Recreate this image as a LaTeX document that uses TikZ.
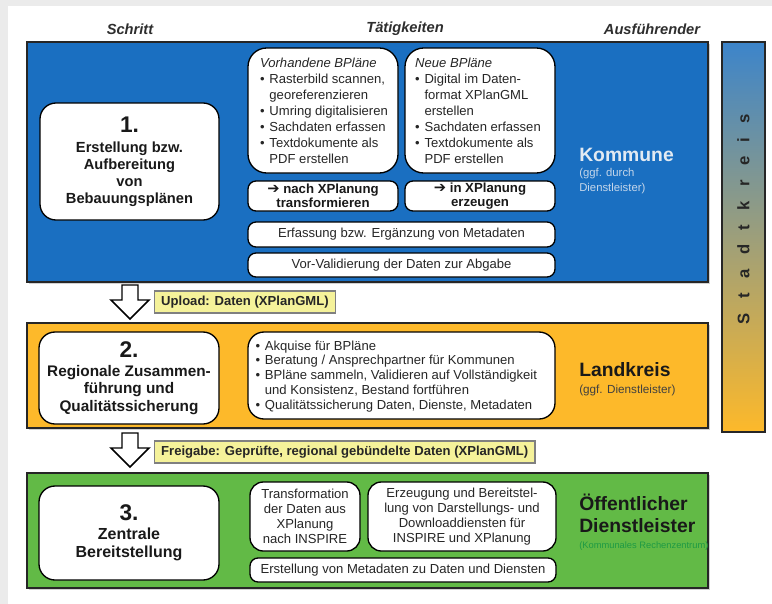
\documentclass[tikz,border=0pt]{standalone}
\usepackage{fontspec}
\setmainfont{Liberation Sans}
\newfontfamily\dejavu{DejaVu Sans}
\usetikzlibrary{fit,calc,shadows}
\definecolor{bggray}{HTML}{EBEBEB}
\definecolor{kblue}{HTML}{1A6FC1}
\definecolor{korange}{HTML}{FDB92A}
\definecolor{kgreen}{HTML}{62BA46}
\definecolor{lyellow}{HTML}{F5F29A}
\definecolor{kommtext}{HTML}{E2EAF2}
\definecolor{kommsub}{HTML}{C4D6EA}
\definecolor{rzgreen}{HTML}{1E9A44}
\definecolor{hdr}{HTML}{2E2E2E}
\newcommand{\bl}{\makebox[7pt][l]{•}}
\newcommand{\ind}{\hspace*{7pt}}
\newcommand{\harr}{{\dejavu\fontsize{11}{10}\selectfont ➔}}
\tikzset{
  lane/.style={draw=black!85, line width=1.2pt, inner sep=0pt,
    drop shadow={shadow xshift=1.2pt, shadow yshift=-1.2pt, opacity=0.35}},
  wbox/.style={draw=black, line width=1pt, fill=white, rounded corners=6pt, inner sep=0pt},
  stepbox/.style={wbox, rounded corners=12pt},
  steptext/.style={font=\bfseries\fontsize{11}{12.8}\selectfont, align=center, text=black!90, inner sep=0pt},
  acttext/.style={font=\fontsize{9.8}{12}\selectfont, align=left, text=black!85, inner sep=0pt},
  actc/.style={font=\fontsize{9.8}{11.2}\selectfont, align=center, text=black!85, inner sep=0pt},
  boldc/.style={font=\bfseries\fontsize{9.9}{10.8}\selectfont, align=center, text=black!90, inner sep=0pt},
  hdrtext/.style={font=\bfseries\itshape\fontsize{11}{13}\selectfont, text=hdr},
  lbl/.style={draw=black!50, line width=0.8pt, fill=lyellow, font=\bfseries\fontsize{9.8}{10.5}\selectfont,
    text=black!85, inner xsep=5pt, inner ysep=0pt, minimum height=16.5pt, anchor=west},
  hollow/.style={draw=black, line width=1.1pt, fill=white, line join=miter},
  who/.style={anchor=west, inner sep=0pt, align=left}
}
\begin{document}
\begin{tikzpicture}[x=0.75pt,y=-0.75pt]
\useasboundingbox (0,0) rectangle (772,604);
\fill[bggray] (0,0) rectangle (772,604);
\fill[white] (8,6) rectangle (772,604);

% headers
\node[hdrtext] (hschritt) at (130,29) {Schritt};
\node[hdrtext] (htaet) at (405,29) {Tätigkeiten};
\node[hdrtext] (hausf) at (652,29) {Ausführender};

% lanes
\node[lane, fill=kblue, fit={(27,42) (708,282)}] (blue) {};
\node[lane, fill=korange, fit={(27,323) (708,428)}] (orange) {};
\node[lane, fill=kgreen, fit={(27,473) (708,588)}] (green) {};

% Stadtkreis bar
\node[draw=black!85, line width=1.2pt, inner sep=0pt, shading=axis, top color=kblue!85, bottom color=korange,
  fit={(722,42) (765,432)}] (stadt) {};
\node[rotate=90, font=\bfseries\fontsize{12.5}{13}\selectfont, text=black!85] (stadtt) at (743.5,219)
  {S\hspace{10.8pt}t\hspace{10.8pt}a\hspace{10.8pt}d\hspace{10.8pt}t\hspace{10.8pt}k\hspace{10.8pt}r\hspace{10.8pt}e\hspace{10.8pt}i\hspace{10.8pt}s};

% ---- Step 1 ----
\node[stepbox, fit={(40,103) (219,220)}] (s1) {};
\node[steptext] (s1t) at (s1.center) {{\fontsize{17}{19}\selectfont 1.}\\[2pt] Erstellung bzw.\\ Aufbereitung\\ von\\ Bebauungsplänen};

\node[wbox, rounded corners=14pt, fit={(248,48) (398,173)}] (vorh) {};
\node[acttext] (vorht) at ($(vorh.center)+(1,0)$) {\textit{Vorhandene BPläne}\\
\bl Rasterbild scannen,\\ \ind georeferenzieren\\ \bl Umring digitalisieren\\ \bl Sachdaten erfassen\\
\bl Textdokumente als\\ \ind PDF erstellen};
\node[wbox, rounded corners=14pt, fit={(405,48) (555,173)}] (neu) {};
\node[acttext] (neut) at ($(neu.center)+(-2,0)$) {\textit{Neue BPläne}\\
\bl Digital im Daten-\\ \ind format XPlanGML\\ \ind erstellen\\ \bl Sachdaten erfassen\\
\bl Textdokumente als\\ \ind PDF erstellen};

\node[wbox, fit={(248,181) (398,211)}] (tr1) {};
\node[boldc] (tr1t) at (tr1.center) {\harr\ nach XPlanung\\ transformieren};
\node[wbox, fit={(405,181) (555,211)}] (tr2) {};
\node[boldc] (tr2t) at (tr2.center) {\harr\ in XPlanung\\ erzeugen};

\node[wbox, fit={(248,222) (555,247)}] (meta) {};
\node[actc] (metat) at (meta.center) {Erfassung bzw. Ergänzung von Metadaten};
\node[wbox, fit={(248,253) (555,277)}] (vorv) {};
\node[actc] (vorvt) at (vorv.center) {Vor-Validierung der Daten zur Abgabe};

\node[who, font=\bfseries\fontsize{14.5}{16}\selectfont, text=kommtext] (komm) at (579,155) {Kommune};
\node[who, font=\fontsize{8.5}{11}\selectfont, text=kommsub] (kommsub) at (579,181) {(ggf. durch\\ Dienstleister)};

% arrow 1 + label
\coordinate (a1) at (130,285);
\draw[hollow] (a1) ++(-8,0) -- ++(0,15) -- ++(-11,0) -- (130,319) -- ++(19,-19) -- ++(-11,0) -- ++(0,-15) -- cycle;
\node[lbl] (upl) at (154,302) {Upload: Daten (XPlanGML)};

% ---- Step 2 ----
\node[stepbox, fit={(39,332) (219,424)}] (s2) {};
\node[steptext, font=\bfseries\fontsize{11.5}{13.2}\selectfont] (s2t) at ($(s2.center)+(0,0)$) {{\fontsize{17}{19}\selectfont 2.}\\[1pt] Regionale Zusammen-\\ führung und\\ Qualitätssicherung};

\node[wbox, rounded corners=12pt, fit={(248,332) (555,419)}] (act2) {};
\node[acttext, font=\fontsize{9.8}{11.2}\selectfont] (act2t) at ($(act2.west)+(8,1)$) [anchor=west] {\bl Akquise für BPläne\\
\bl Beratung / Ansprechpartner für Kommunen\\ \bl BPläne sammeln, Validieren auf Vollständigkeit\\
\ind und Konsistenz, Bestand fortführen\\ \bl Qualitätssicherung Daten, Dienste, Metadaten};

\node[who, font=\bfseries\fontsize{14.5}{16}\selectfont, text=black!90] (landk) at (579,370) {Landkreis};
\node[who, font=\fontsize{8.8}{11}\selectfont, text=black!75] (landsub) at (579,390) {(ggf. Dienstleister)};

% arrow 2 + label
\coordinate (a2) at (130,433);
\draw[hollow] (a2) ++(-8,0) -- ++(0,15) -- ++(-11,0) -- (130,467) -- ++(19,-19) -- ++(-11,0) -- ++(0,-15) -- cycle;
\node[lbl] (frei) at (154,452) {Freigabe: Geprüfte, regional gebündelte Daten (XPlanGML)};

% ---- Step 3 ----
\node[stepbox, fit={(39,486) (219,580)}] (s3) {};
\node[steptext, font=\bfseries\fontsize{12}{13.5}\selectfont] (s3t) at (s3.center) {{\fontsize{17}{19}\selectfont 3.}\\[1pt] Zentrale\\ Bereitstellung};

\node[wbox, rounded corners=10pt, fit={(250,482) (360,551)}] (trans) {};
\node[actc] (transt) at (trans.center) {Transformation\\ der Daten aus\\ XPlanung\\ nach INSPIRE};
\node[wbox, rounded corners=10pt, fit={(368,482) (556,551)}] (erz) {};
\node[actc] (erzt) at (erz.center) {Erzeugung und Bereitstel-\\ lung von Darstellungs- und\\ Downloaddiensten für\\ INSPIRE und XPlanung};
\node[wbox, fit={(250,558) (556,582)}] (erst) {};
\node[actc] (erstt) at (erst.center) {Erstellung von Metadaten zu Daten und Diensten};

\node[who, font=\bfseries\fontsize{14.5}{16.5}\selectfont, text=black!90] (oeff) at (579,513) {Öffentlicher\\ Dienstleister};
\node[who, font=\fontsize{7}{9}\selectfont, text=rzgreen] (rz) at (579,546) {(Kommunales Rechenzentrum)};
\end{tikzpicture}
\end{document}
